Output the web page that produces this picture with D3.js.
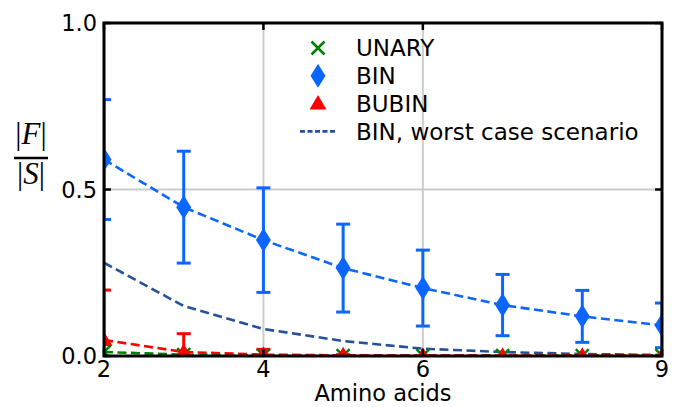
<!DOCTYPE html>
<html>
<head>
<meta charset="utf-8">
<script src="https://cdn.jsdelivr.net/npm/d3@7"></script>
<style>
  body { margin: 0; background: #fff; }
  svg text { font-family: "DejaVu Sans", sans-serif; }
</style>
</head>
<body>
<script>
// amino acid counts on the x axis
const aminoAcids = [2, 3, 4, 5, 6, 7, 8, 9];

// |F| / |S| per method
const unary     = [0.012, 0.004, 0.002, 0.001, 0.001, 0.001, 0.001, 0.001];
const bin       = [0.59, 0.447, 0.348, 0.264, 0.204, 0.153, 0.119, 0.092];
const binErr    = [0.18, 0.168, 0.157, 0.132, 0.114, 0.092, 0.078, 0.067];
const bubin     = [0.048, 0.012, 0.004, 0.002, 0.001, 0.001, 0.001, 0.001];
const bubinErr  = [0.15, 0.055, 0.016, 0.002, 0, 0, 0, 0];
const worstCase = [0.28, 0.15, 0.081, 0.045, 0.022, 0.012, 0.006, 0.003];

const xTicks = [2, 4, 6, 9];
const yTicks = [0, 0.5, 1.0];

const W = 677, H = 407;
const margin = {left: 104, right: 15, top: 23, bottom: 51};
const iw = W - margin.left - margin.right,
      ih = H - margin.top - margin.bottom;

const blue = "#0b66ff", red = "#ff0000", green = "#008000", navy = "#25509a";

const svg = d3.select("body").append("svg")
    .attr("width", W)
    .attr("height", H);

const x = d3.scaleLinear().domain([2, 9]).range([0, iw]);
const y = d3.scaleLinear().domain([0, 1]).range([ih, 0]);

svg.append("clipPath").attr("id", "clip")
  .append("rect").attr("width", iw).attr("height", ih);

const g = svg.append("g")
    .attr("transform", `translate(${margin.left},${margin.top})`);

// grid
g.append("g").selectAll("line")
  .data(xTicks)
  .enter().append("line")
  .attr("x1", d => x(d)).attr("x2", d => x(d))
  .attr("y1", 0).attr("y2", ih)
  .attr("stroke", "#cccccc").attr("stroke-width", 2);
g.append("g").selectAll("line")
  .data(yTicks)
  .enter().append("line")
  .attr("x1", 0).attr("x2", iw)
  .attr("y1", d => y(d)).attr("y2", d => y(d))
  .attr("stroke", "#cccccc").attr("stroke-width", 2);

const plot = g.append("g").attr("clip-path", "url(#clip)");

const line = d3.line()
    .x((d, i) => x(aminoAcids[i]))
    .y(d => y(d));

const dash = "9,4.5";

// worst case
plot.append("path")
  .datum(worstCase)
  .attr("d", line)
  .attr("fill", "none")
  .attr("stroke", navy).attr("stroke-width", 2.6)
  .attr("stroke-dasharray", dash);

// series lines
[[unary, green], [bubin, red], [bin, blue]].forEach(([vals, col]) => {
  plot.append("path")
    .datum(vals)
    .attr("d", line)
    .attr("fill", "none")
    .attr("stroke", col).attr("stroke-width", 2.6)
    .attr("stroke-dasharray", dash);
});

// error bars
function errorBars(vals, errs, col) {
  const eb = plot.append("g").attr("stroke", col).attr("stroke-width", 3);
  vals.forEach((v, i) => {
    if (!errs[i]) return;
    const cx = x(aminoAcids[i]);
    const top = y(v + errs[i]), bot = y(v - errs[i]);
    eb.append("line").attr("x1", cx).attr("x2", cx).attr("y1", top).attr("y2", bot);
    eb.append("line").attr("x1", cx - 7).attr("x2", cx + 7).attr("y1", top).attr("y2", top);
    eb.append("line").attr("x1", cx - 7).attr("x2", cx + 7).attr("y1", bot).attr("y2", bot);
  });
}
errorBars(bubin, bubinErr, red);
errorBars(bin, binErr, blue);

// markers
const diamond = "M0,-12 L7.5,0 L0,12 L-7.5,0 Z";
const triangle = "M0,-8.5 L8.5,6 L-8.5,6 Z";
const cross = "M-6.5,-6.5 L6.5,6.5 M-6.5,6.5 L6.5,-6.5";

function markers(vals, path, col, stroke) {
  plot.append("g").selectAll("path")
    .data(vals)
    .enter().append("path")
    .attr("transform", (d, i) => `translate(${x(aminoAcids[i])},${y(d)})`)
    .attr("d", path)
    .attr("fill", stroke ? "none" : col)
    .attr("stroke", col)
    .attr("stroke-width", stroke ? 2.5 : 0);
}
markers(unary, cross, green, true);
markers(bubin, triangle, red, false);
markers(bin, diamond, blue, false);

// spines
g.append("rect")
  .attr("width", iw).attr("height", ih)
  .attr("fill", "none").attr("stroke", "#000").attr("stroke-width", 3);

// ticks inward on all sides
const tk = g.append("g").attr("stroke", "#000").attr("stroke-width", 2.5);
yTicks.forEach(v => {
  tk.append("line").attr("x1", 0).attr("x2", 7).attr("y1", y(v)).attr("y2", y(v));
  tk.append("line").attr("x1", iw - 7).attr("x2", iw).attr("y1", y(v)).attr("y2", y(v));
});
xTicks.forEach(v => {
  tk.append("line").attr("x1", x(v)).attr("x2", x(v)).attr("y1", ih).attr("y2", ih - 7);
  tk.append("line").attr("x1", x(v)).attr("x2", x(v)).attr("y1", 0).attr("y2", 7);
});

// tick labels
g.append("g").selectAll("text")
  .data(yTicks)
  .enter().append("text")
  .attr("x", -7).attr("y", d => y(d))
  .attr("dy", "0.36em")
  .attr("text-anchor", "end")
  .attr("font-size", 22.5)
  .text(d3.format(".1f"));
g.append("g").selectAll("text")
  .data(xTicks)
  .enter().append("text")
  .attr("x", d => x(d)).attr("y", ih + 21)
  .attr("text-anchor", "middle")
  .attr("font-size", 22.5)
  .text(d => d);

// axis label
svg.append("text")
  .attr("x", margin.left + iw / 2).attr("y", 401)
  .attr("text-anchor", "middle")
  .attr("font-size", 22.5)
  .text("Amino acids");

// y label |F| / |S|
const fr = svg.append("g").attr("transform", "translate(31,0)");
fr.append("text")
  .attr("y", 144).attr("text-anchor", "middle")
  .attr("font-size", 31)
  .style("font-family", "'Liberation Serif', serif")
  .html('|<tspan font-style="italic">F</tspan>|');
fr.append("line")
  .attr("x1", -17).attr("x2", 17).attr("y1", 158).attr("y2", 158)
  .attr("stroke", "#000").attr("stroke-width", 2.5);
fr.append("text")
  .attr("y", 184).attr("text-anchor", "middle")
  .attr("font-size", 31)
  .style("font-family", "'Liberation Serif', serif")
  .html('|<tspan font-style="italic">S</tspan>|');

// legend
const legendItems = [
  {label: "UNARY", kind: "cross", col: green},
  {label: "BIN", kind: "diamond", col: blue},
  {label: "BUBIN", kind: "triangle", col: red},
  {label: "BIN, worst case scenario", kind: "line", col: navy}
];
const lg = svg.append("g").attr("transform", "translate(318,48)");
legendItems.forEach((d, i) => {
  const row = lg.append("g").attr("transform", `translate(0,${i * 27.8})`);
  if (d.kind === "line") {
    row.append("line").attr("x1", -18).attr("x2", 17).attr("y1", 0).attr("y2", 0)
      .attr("stroke", d.col).attr("stroke-width", 2.6).attr("stroke-dasharray", "5,2.5");
  } else {
    const p = d.kind === "cross" ? cross : d.kind === "diamond" ? diamond : triangle;
    row.append("path").attr("d", p)
      .attr("fill", d.kind === "cross" ? "none" : d.col)
      .attr("stroke", d.col)
      .attr("stroke-width", d.kind === "cross" ? 2.5 : 0);
  }
  row.append("text")
    .attr("x", 38).attr("dy", "0.36em")
    .attr("font-size", 23)
    .text(d.label);
});
</script>
</body>
</html>
